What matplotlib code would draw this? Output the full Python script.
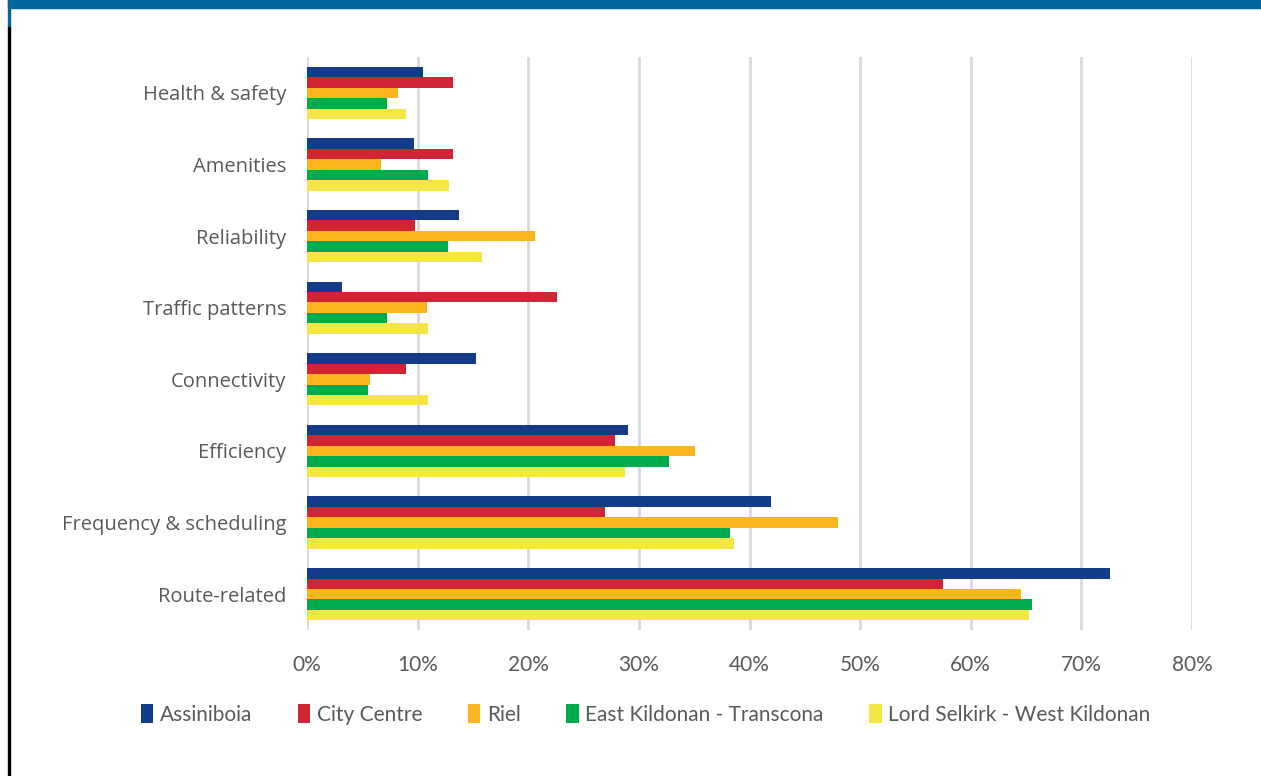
import matplotlib
matplotlib.use('Agg')
import matplotlib.pyplot as plt
from matplotlib.patches import Rectangle
from matplotlib.ticker import MultipleLocator, FuncFormatter
import numpy as np

# categories, bottom to top
categories = ['Route-related', 'Frequency & scheduling', 'Efficiency', 'Connectivity',
              'Traffic patterns', 'Reliability', 'Amenities', 'Health & safety']

series = ['Assiniboia', 'City Centre', 'Riel', 'East Kildonan - Transcona',
          'Lord Selkirk - West Kildonan']

# percent values, same order as categories
assiniboia = [72.6, 41.9, 29.0, 15.3, 3.2, 13.7, 9.7, 10.5]
city_centre = [57.5, 26.9, 27.85, 8.9, 22.6, 9.8, 13.2, 13.2]
riel = [64.5, 48.0, 35.1, 5.65, 10.8, 20.6, 6.7, 8.2]
ek_transcona = [65.5, 38.2, 32.7, 5.5, 7.25, 12.7, 10.9, 7.25]
ls_west_kildonan = [65.3, 38.6, 28.7, 10.9, 10.9, 15.8, 12.85, 8.9]

colors = ['#143A8A', '#D12434', '#FDB51E', '#00AB4E', '#F6E645']

data = [assiniboia, city_centre, riel, ek_transcona, ls_west_kildonan]

fig = plt.figure(figsize=(12.61, 7.76), dpi=100)
ax = fig.add_axes([0.2435, 0.1881, 0.7018, 0.7384])

y = np.arange(len(categories))
h = 0.146
for i, (vals, c, name) in enumerate(zip(data, colors, series)):
    # first series on top of each group
    off = (2 - i) * h
    ax.barh(y + off, vals, height=h, color=c, label=name, zorder=3)

ax.set_xlim(0, 80)
ax.set_ylim(-0.5, 7.5)
ax.xaxis.set_major_locator(MultipleLocator(10))
ax.xaxis.set_major_formatter(FuncFormatter(lambda v, p: '%d%%' % v))
ax.set_yticks(y)
ax.set_yticklabels(categories, fontsize=14.5, color='#595959', family='Open Sans')
for lab in ax.get_xticklabels():
    lab.set_fontsize(15)
    lab.set_color('#595959')
    lab.set_family('Lato')
ax.tick_params(axis='both', length=0)
ax.tick_params(axis='y', pad=15)
ax.tick_params(axis='x', pad=18)
ax.grid(axis='x', color='#D9D9D9', linewidth=2, zorder=0)
for s in ax.spines.values():
    s.set_visible(False)

leg = fig.legend(loc='center', bbox_to_anchor=(0.512, 0.079), ncol=5, frameon=False,
                 prop={'family': 'Lato', 'size': 15}, handlelength=0.6, handleheight=1.0,
                 handletextpad=0.3, columnspacing=2.2)
for t in leg.get_texts():
    t.set_color('#595959')

# frame decorations
fig.patches.append(Rectangle((8 / 1261, 1 - 8 / 776), 1, 8 / 776, transform=fig.transFigure,
                             color='#00679F', zorder=5))
fig.patches.append(Rectangle((8 / 1261, 1 - 27 / 776), 2 / 1261, 27 / 776,
                             transform=fig.transFigure, color='#00679F', zorder=5))
fig.patches.append(Rectangle((8 / 1261, 0), 2 / 1261, 1 - 27 / 776,
                             transform=fig.transFigure, color='black', zorder=5))

plt.savefig('out.png', dpi=100)
